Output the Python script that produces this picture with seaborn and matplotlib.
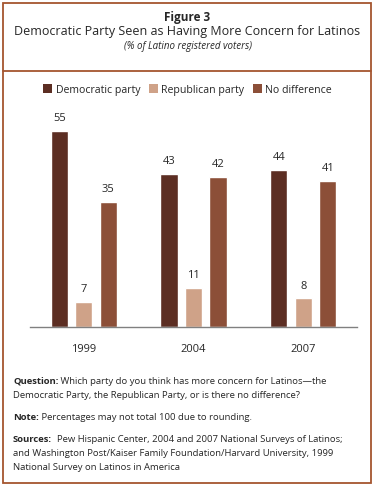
import pandas as pd
import matplotlib.pyplot as plt
import seaborn as sns
from matplotlib.patches import Rectangle, Patch
from matplotlib.lines import Line2D

years = ["1999", "2004", "2007"]
parties = ["Democratic party", "Republican party", "No difference"]
democratic = [55, 43, 44]
republican = [7, 11, 8]
no_difference = [35, 42, 41]

colors = ["#5c2e23", "#cfa288", "#8c4f38"]
border = "#a5552f"
FONT = ["Open Sans", "DejaVu Sans"]

df = pd.DataFrame({
    "year": years * 3,
    "party": [p for p in parties for _ in years],
    "value": democratic + republican + no_difference,
})

sns.set_style("white")
plt.rcParams["font.family"] = FONT

W, H = 375, 486
fig = plt.figure(figsize=(W / 100, H / 100), dpi=100)

def fy(py):
    return 1 - py / H

# frame
fig.patches.append(Rectangle((3 / W, fy(483)), 368 / W, 480 / H, transform=fig.transFigure,
                             fill=False, edgecolor=border, linewidth=1.3))
fig.lines.append(Line2D([3 / W, 371 / W], [fy(71), fy(71)], transform=fig.transFigure,
                        color=border, linewidth=1.3))

fig.text(0.5, fy(18), "Figure 3", ha="center", va="center", fontsize=8.5, fontweight="bold")
fig.text(0.5, fy(32), "Democratic Party Seen as Having More Concern for Latinos",
         ha="center", va="center", fontsize=9.0)
fig.text(0.5, fy(46), "(% of Latino registered voters)", ha="center", va="center",
         fontsize=7, style="italic")

# chart
ax = fig.add_axes([30 / W, (H - 327) / H, 327 / W, 214 / H])
sns.barplot(data=df, x="year", y="value", hue="party", palette=colors,
            width=0.67, gap=0.3, ax=ax, legend=False, saturation=1)
ax.set_ylim(0, 60)
ax.set_xlim(-0.49, 2.49)
for c in ax.containers:
    ax.bar_label(c, fmt="%d", padding=5, fontsize=8)
for s in ["top", "right", "left"]:
    ax.spines[s].set_visible(False)
ax.spines["bottom"].set_color("#808080")
ax.spines["bottom"].set_linewidth(1)
ax.set_yticks([])
ax.set_xlabel("")
ax.set_ylabel("")
ax.tick_params(axis="x", length=0, pad=12, labelsize=8)

handles = [Patch(facecolor=c, edgecolor="none") for c in colors]
fig.legend(handles, parties, loc="center", bbox_to_anchor=(0.5, fy(90)), ncol=3,
           frameon=False, fontsize=7.6, handlelength=0.9, handleheight=0.9,
           handletextpad=0.3, columnspacing=0.8)

# footnotes
fig.canvas.draw()
renderer = fig.canvas.get_renderer()
FS = 6.8

def note(py, bold, rest):
    t = fig.text(13 / W, fy(py), bold, fontsize=FS, fontweight="bold", va="center")
    bb = t.get_window_extent(renderer)
    fig.text(bb.x1 / W, fy(py), rest, fontsize=FS, va="center")

note(381, "Question:", " Which party do you think has more concern for Latinos\u2014the")
fig.text(13 / W, fy(395), "Democratic Party, the Republican Party, or is there no difference?",
         fontsize=FS, va="center")
note(417, "Note:", " Percentages may not total 100 due to rounding.")
note(439, "Sources:", "  Pew Hispanic Center, 2004 and 2007 National Surveys of Latinos;")
fig.text(13 / W, fy(453), "and Washington Post/Kaiser Family Foundation/Harvard University, 1999",
         fontsize=FS, va="center")
fig.text(13 / W, fy(467), "National Survey on Latinos in America", fontsize=FS, va="center")

fig.savefig("out.png", dpi=100)
